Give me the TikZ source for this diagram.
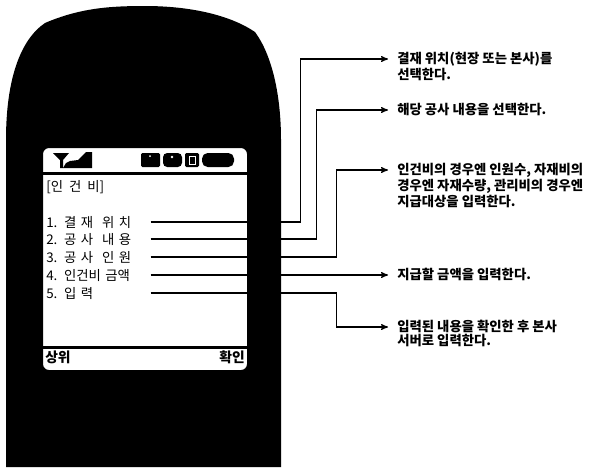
\documentclass[tikz,border=0pt]{standalone}
\usepackage{fontspec}
\usetikzlibrary{arrows}
\newfontfamily\kr{Noto Sans CJK KR}

\begin{document}
\begin{tikzpicture}[x=0.025cm, y=-0.025cm, >=stealth',
    menu/.style={anchor=west, inner sep=0pt, text width=2.6cm,
                 font=\kr\fontsize{9.5}{11}\selectfont},
    note/.style={anchor=north west, align=left, inner sep=0pt,
                 font=\kr\bfseries\fontsize{9.5}{9.7}\selectfont},
    link/.style={->, line width=0.8pt}]

    \useasboundingbox (0,0) rectangle (596,469);

    % screen text
    \node[anchor=west, inner sep=0pt, font=\kr\fontsize{9.5}{11}\selectfont] (title) at (46,187) {[인\ \ 건\ \ 비]};
    \node[menu] (m1) at (46,222) {1. 결 재 \ 위 치};
    \node[menu] (m2) at (46,239) {2. 공 사 \ 내 용};
    \node[menu] (m3) at (46,257) {3. 공 사 \ 인 원};
    \node[menu] (m4) at (46,275) {4. 인건비 금액};
    \node[menu] (m5) at (46,293) {5. 입 력};

    \node[anchor=west, inner sep=0pt, font=\kr\bfseries\fontsize{9.8}{11}\selectfont] (up) at (45,357) {상위};
    \node[anchor=east, inner sep=0pt, font=\kr\bfseries\fontsize{9.8}{11}\selectfont] (ok) at (245,357) {확인};

    % notes on the right
    \coordinate (a1) at (388,59);
    \coordinate (a2) at (388,110);
    \coordinate (a3) at (388,170);
    \coordinate (a4) at (388,275);
    \coordinate (a5) at (388,327);

    \node[note] (n1) at (397,52) {결재 위치(현장 또는 본사)를\\선택한다.};
    \node[note] (n2) at (397,103) {해당 공사 내용을 선택한다.};
    \node[note] (n3) at (397,163) {인건비의 경우엔 인원수, 자재비의\\경우엔 자재수량, 관리비의 경우엔\\지급대상을 입력한다.};
    \node[note] (n4) at (397,268) {지급할 금액을 입력한다.};
    \node[note] (n5) at (397,320) {입력된 내용을 확인한 후 본사\\서버로 입력한다.};

    \draw[link] (m1.east) -- ++(150,0) |- (a1);
    \draw[link] (m2.east) -- ++(166,0) |- (a2);
    \draw[link] (m3.east) -- ++(186,0) |- (a3);
    \draw[link] (m4.east) -- (a4);
    \draw[link] (m5.east) -- ++(186,0) |- (a5);

    % phone body with the screen cut out
    \fill[even odd rule]
        (6,467) -- (6,140)
        .. controls (6,80) and (20,40) .. (45,23)
        .. controls (80,8) and (110,6) .. (145,6)
        .. controls (190,6) and (230,15) .. (255,32)
        .. controls (272,55) and (281,95) .. (281,140)
        -- (281,467) -- cycle
        [rounded corners=0.15cm] (43,148) rectangle (247,370);

    % status bar and soft key bar
    \fill (43,171.5) rectangle (247,174.5);
    \fill (43,345.5) rectangle (247,348.5);

    % antenna
    \fill (53,153) -- (69,153) -- (63,160) -- (63,168) -- (60,168) -- (60,160) -- cycle;
    \fill (63,168) -- (92,168) -- (92,152) -- (86,152) -- (78,160) -- (70,161) -- (66,163) -- cycle;

    % status icons
    \fill[rounded corners=1pt] (141,153) rectangle (160,167);
    \fill[rounded corners=3pt] (163,153) rectangle (182,167);
    \fill[rounded corners=1pt] (185,153) rectangle (199,167);
    \fill[rounded corners=4pt] (202,153) rectangle (234,167);
    \fill[white] (150,156) circle (1);
    \fill[white] (172,157) circle (1.3);
    \draw[white, line width=0.4pt] (189,156) rectangle (195,164);

\end{tikzpicture}
\end{document}
